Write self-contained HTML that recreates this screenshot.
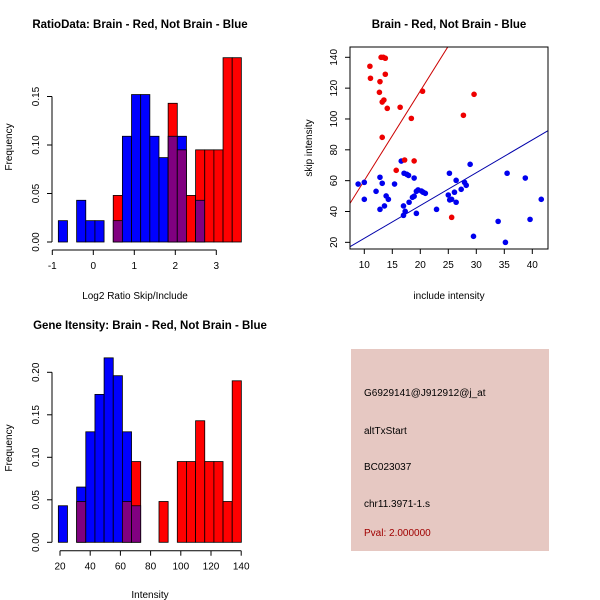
<!DOCTYPE html>
<html><head><meta charset="utf-8"><style>
html,body{margin:0;padding:0;background:#fff}
svg{display:block;font-family:"Liberation Sans",Arial,sans-serif}
</style></head><body>
<svg id="c" width="600" height="600" viewBox="0 0 600 600" xmlns="http://www.w3.org/2000/svg">
<rect x="351" y="349" width="198" height="202" fill="#e6c8c2"/>
<text x="364" y="396" font-size="10">G6929141@J912912@j_at</text>
<text x="364" y="434" font-size="10">altTxStart</text>
<text x="364" y="470" font-size="10">BC023037</text>
<text x="364" y="507" font-size="10">chr11.3971-1.s</text>
<text x="364" y="536" font-size="10" fill="#a00000">Pval: 2.000000</text>
</svg>
<script>
// ---- Panel 1: RatioData histogram ----
const ratioBlue = [0.022,0,0.043,0.022,0.022,0,0.022,0.109,0.152,0.152,0.109,0.087,0.109,0.109,0,0.043,0,0,0,0];
const ratioRed  = [0,0,0,0,0,0,0.048,0,0,0,0,0,0.143,0.095,0.048,0.095,0.095,0.095,0.19,0.19];
const ratioBreakStart = -0.853, ratioBinWidth = 0.2232;
const ratioXTicks = [-1,0,1,2,3];
const ratioYTicks = [0,0.05,0.10,0.15];
const ratioYTickLabels = ["0.00","0.05","0.10","0.15"];
// ---- Panel 2: scatter ----
const redX = [11.0,11.1,12.8,13.0,13.4,13.75,12.7,13.75,13.5,13.2,14.1,13.2,16.4,18.4,20.4,17.2,18.9,15.7,27.7,29.6,25.6];
const redY = [134.2,126.4,124.2,140,140,139.4,117.3,129,112.3,111,106.9,88.1,107.6,100.4,118,73.4,72.8,66.7,102.4,116,36.2];
const blueX = [8.9,10.0,10.0,12.1,12.8,13.2,12.8,13.6,13.9,14.3,15.4,16.6,17.1,17.6,17.9,18.9,17.0,17.0,17.3,18.0,18.6,18.9,19.3,19.3,19.6,20.2,20.5,20.9,22.9,25.0,25.2,25.25,25.6,26.4,26.1,26.4,27.3,27.9,28.2,28.9,29.5,33.9,35.2,35.5,38.75,39.6,41.6];
const blueY = [57.8,58.9,47.9,53.1,62.2,58.3,41.4,43.6,50.1,47.9,57.8,72.7,64.8,64.1,63.4,61.7,43.6,37.5,40.1,46,49.2,49.9,38.8,53.1,54,53.3,52.5,51.8,41.4,50.7,64.8,47.5,47.9,60.2,52.5,46,54.4,58.9,57,70.6,23.9,33.6,20,64.8,61.7,34.9,47.9];
const redLine = [2.0,5.81];   // intercept, slope
const blueLine = [1.35,2.127];
const scatXTicks = [10,15,20,25,30,35,40];
const scatYTicks = [20,40,60,80,100,120,140];
// ---- Panel 3: intensity histogram ----
const intBlue = [0.043,0,0.065,0.13,0.174,0.217,0.196,0.13,0.043,0,0,0,0,0,0,0,0,0,0,0];
const intRed  = [0,0,0.048,0,0,0,0,0.048,0.095,0,0,0.048,0,0.095,0.095,0.143,0.095,0.095,0.048,0.19];
const intBreakStart = 18.9, intBinWidth = 6.06;
const intXTicks = [20,40,60,80,100,120,140];
const intYTicks = [0,0.05,0.10,0.15,0.20];
const intYTickLabels = ["0.00","0.05","0.10","0.15","0.20"];

const svg = document.getElementById('c');
const NS = 'http://www.w3.org/2000/svg';
function mk(tag, attrs, parent){const e=document.createElementNS(NS,tag);for(const k in attrs)e.setAttribute(k,attrs[k]);(parent||svg).appendChild(e);return e;}
function txt(x,y,s,size,extra){const t=mk('text',Object.assign({x:x,y:y,'font-size':size,'text-anchor':'middle'},extra||{}));t.textContent=s;return t;}

function histogram(name, blue, red, b0, bw, sx, sy, xTicks, yTicks, yLabels, axisY, yAxisX){
  const g = mk('g',{});
  
  
  for(let i=0;i<blue.length;i++){
    const x0=sx(b0+i*bw), x1=sx(b0+(i+1)*bw);
    const hi=Math.max(blue[i],red[i]), lo=Math.min(blue[i],red[i]);
    if(hi>0){
      const r=mk('rect',{x:x0,y:sy(hi),width:x1-x0,height:sy(0)-sy(hi),fill:blue[i]>=red[i]?'#0000ff':'#ff0000',stroke:'#000','stroke-width':0.8},g);
      
      
    }
    if(lo>0){
      const r=mk('rect',{x:x0,y:sy(lo),width:x1-x0,height:sy(0)-sy(lo),fill:'#800080',stroke:'#000','stroke-width':0.8},g);
      
      
    }
  }
  const ax=mk('g',{stroke:'#000','stroke-width':1});
  
  
  mk('line',{x1:sx(xTicks[0]),x2:sx(xTicks[xTicks.length-1]),y1:axisY,y2:axisY},ax);
  xTicks.forEach(v=>{mk('line',{x1:sx(v),x2:sx(v),y1:axisY,y2:axisY+5},ax);const t=txt(sx(v),axisY+19,String(v),10);});
  const ay=mk('g',{stroke:'#000','stroke-width':1});
  
  
  mk('line',{x1:yAxisX,x2:yAxisX,y1:sy(yTicks[0]),y2:sy(yTicks[yTicks.length-1])},ay);
  yTicks.forEach((v,i)=>{mk('line',{x1:yAxisX,x2:yAxisX-5,y1:sy(v),y2:sy(v)},ay);const t=txt(yAxisX-13,sy(v),yLabels[i],10,{transform:`rotate(-90 ${yAxisX-13} ${sy(v)})`});});
}

// Panel 1
{
  const sx=v=>93.3+41*v, sy=v=>242-v*970;
  histogram('ratio-histogram',ratioBlue,ratioRed,ratioBreakStart,ratioBinWidth,sx,sy,ratioXTicks,ratioYTicks,ratioYTickLabels,250,52);
  let t=txt(140,28,'RatioData: Brain - Red, Not Brain - Blue',11.5,{'font-weight':'bold'});
  
  t=txt(135,299,'Log2 Ratio Skip/Include',10);
  
  t=txt(12,147,'Frequency',10,{transform:'rotate(-90 12 147)'});
  
}
// Panel 3
{
  const sx=v=>60+(v-20)*1.51, sy=v=>542.3-v*850;
  histogram('intensity-histogram',intBlue,intRed,intBreakStart,intBinWidth,sx,sy,intXTicks,intYTicks,intYTickLabels,550.7,52);
  let t=txt(150,329,'Gene Itensity: Brain - Red, Not Brain - Blue',11.5,{'font-weight':'bold'});
  
  t=txt(150,598,'Intensity',10);
  
  t=txt(12,448,'Frequency',10,{transform:'rotate(-90 12 448)'});
  
}
// Panel 2
{
  const sx=v=>364.3+(v-10)*5.6, sy=v=>57.3+(140-v)*1.542;
  const L=350,R=548,T=47,B=249;
  const clip=mk('clipPath',{id:'sc'});mk('rect',{x:L,y:T,width:R-L,height:B-T},clip);
  const gl=mk('g',{'clip-path':'url(#sc)'});
  
  
  const xa=(L-364.3)/5.6+10, xb=(R-364.3)/5.6+10;
  let l=mk('line',{x1:sx(xa),y1:sy(redLine[0]+redLine[1]*xa),x2:sx(xb),y2:sy(redLine[0]+redLine[1]*xb),stroke:'#cc0000','stroke-width':1},gl);
  
  l=mk('line',{x1:sx(xa),y1:sy(blueLine[0]+blueLine[1]*xa),x2:sx(xb),y2:sy(blueLine[0]+blueLine[1]*xb),stroke:'#0000aa','stroke-width':1},gl);
  
  blueX.forEach((x,i)=>{const c=mk('circle',{cx:sx(x),cy:sy(blueY[i]),r:2.8,fill:'#0000ee'});
    });
  redX.forEach((x,i)=>{const c=mk('circle',{cx:sx(x),cy:sy(redY[i]),r:2.8,fill:'#ee0000'});
    });
  const box=mk('rect',{x:L,y:T,width:R-L,height:B-T,fill:'none',stroke:'#000','stroke-width':1});
  
  const ax=mk('g',{stroke:'#000'});
  
  scatXTicks.forEach(v=>{mk('line',{x1:sx(v),x2:sx(v),y1:B,y2:B+5},ax);const t=txt(sx(v),B+19,String(v),10);});
  scatYTicks.forEach(v=>{mk('line',{x1:L,x2:L-5,y1:sy(v),y2:sy(v)},ax);const t=txt(L-13,sy(v),String(v),10,{transform:`rotate(-90 ${L-13} ${sy(v)})`});});
  let t=txt(449,28,'Brain - Red, Not Brain - Blue',11.5,{'font-weight':'bold'});
  
  t=txt(449,299,'include intensity',10);
  
  t=txt(312,148,'skip intensity',10,{transform:'rotate(-90 312 148)'});
  
}
</script>
</body></html>
